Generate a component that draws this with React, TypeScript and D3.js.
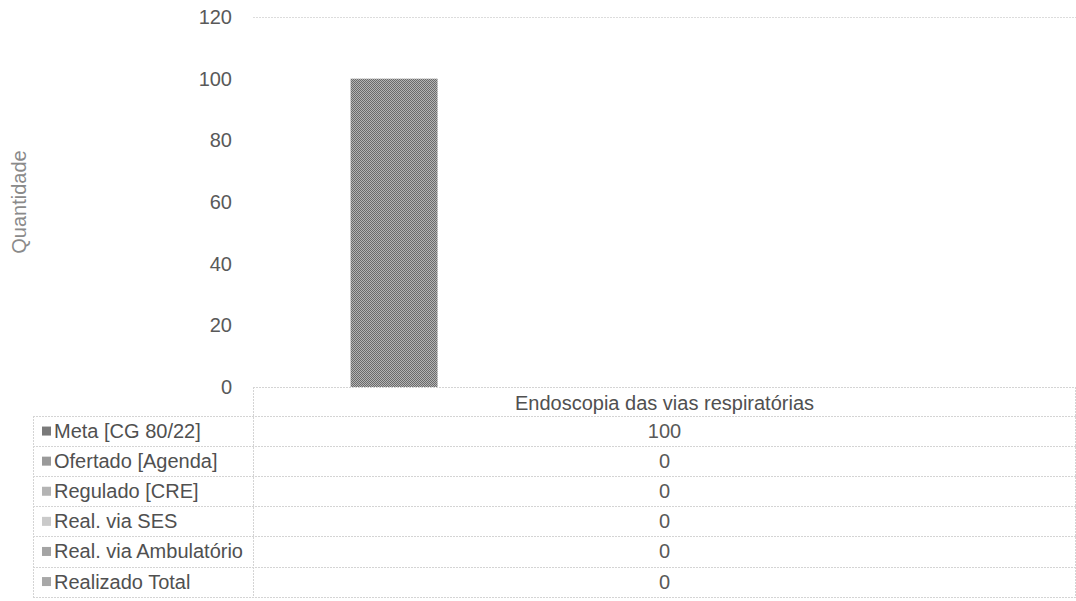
import React, { useEffect, useRef } from "react";
import * as d3 from "d3";

const categories = ["Endoscopia das vias respiratórias"];
const seriesNames = [
  "Meta [CG 80/22]",
  "Ofertado [Agenda]",
  "Regulado [CRE]",
  "Real. via SES",
  "Real. via Ambulatório",
  "Realizado Total",
];
const seriesValues = [[100], [0], [0], [0], [0], [0]];
const yTicks = [0, 20, 40, 60, 80, 100, 120];
const seriesColors = ["#7a7a7a", "#9a9a9a", "#b4b4b4", "#cacaca", "#a4a4a4", "#a8a8a8"];

const W = 1076;
const H = 601;
const FONT = "'Liberation Sans', Arial, sans-serif";

export default function App() {
  const ref = useRef<SVGSVGElement | null>(null);

  useEffect(() => {
    const svg = d3.select(ref.current);
    svg.selectAll("*").remove();

    const plotLeft = 253;
    const plotRight = 1076;
    const plotTop = 17;
    const plotBottom = 387;
    const tableLeft = 33;
    const rowTop = 416;
    const rowH = 30.1;

    const defs = svg.append("defs");
    const pat = defs
      .append("pattern")
      .attr("id", "checker")
      .attr("width", 2)
      .attr("height", 2)
      .attr("patternUnits", "userSpaceOnUse");
    pat.append("rect").attr("width", 2).attr("height", 2).attr("fill", "#b4b4b4");
    pat.append("rect").attr("width", 1).attr("height", 1).attr("fill", "#6a6a6a");
    pat.append("rect").attr("x", 1).attr("y", 1).attr("width", 1).attr("height", 1).attr("fill", "#6a6a6a");

    const y = d3.scaleLinear().domain([0, 120]).range([plotBottom, plotTop]);
    const x0 = d3
      .scaleBand<string>()
      .domain(categories)
      .range([plotLeft, plotRight])
      .paddingInner(0)
      .paddingOuter(0.134);
    const x1 = d3
      .scaleBand<string>()
      .domain(seriesNames)
      .range([0, x0.bandwidth()])
      .paddingInner(0.196)
      .paddingOuter(0.098);

    // gridline at top
    svg
      .append("g")
      .selectAll("line")
      .data(yTicks.filter((t) => t === 120))
      .join("line")
      .attr("x1", plotLeft)
      .attr("x2", plotRight)
      .attr("y1", (d) => Math.round(y(d)) + 0.5)
      .attr("y2", (d) => Math.round(y(d)) + 0.5)
      .attr("stroke", "#dcdcdc")
      .attr("stroke-dasharray", "2,1")
      .attr("stroke-width", 1);

    // tick labels
    svg
      .append("g")
      .selectAll("text")
      .data(yTicks)
      .join("text")
      .attr("x", 232)
      .attr("y", (d) => y(d))
      .attr("dy", "0.35em")
      .attr("text-anchor", "end")
      .attr("font-family", FONT)
      .attr("font-size", 20)
      .attr("fill", "#595959")
      .text((d) => String(d));

    // axis title
    svg
      .append("text")
      .attr("transform", `translate(26,${(plotTop + plotBottom) / 2}) rotate(-90)`)
      .attr("text-anchor", "middle")
      .attr("font-family", FONT)
      .attr("font-size", 20)
      .attr("fill", "#8a8a8a")
      .text("Quantidade");

    // bars
    const g = svg.append("g");
    categories.forEach((cat, ci) => {
      seriesNames.forEach((s, si) => {
        const v = seriesValues[si][ci];
        if (v <= 0) return;
        g.append("rect")
          .attr("x", (x0(cat) ?? 0) + (x1(s) ?? 0))
          .attr("y", y(v))
          .attr("width", x1.bandwidth())
          .attr("height", y(0) - y(v))
          .attr("fill", si === 0 ? "url(#checker)" : seriesColors[si]);
      });
    });

    // table lines
    const lineCol = "#d4d4d4";
    const tg = svg.append("g").attr("stroke", lineCol).attr("stroke-dasharray", "2,1").attr("stroke-width", 1);
    tg.append("line").attr("x1", plotLeft).attr("x2", plotRight).attr("y1", plotBottom + 0.5).attr("y2", plotBottom + 0.5);
    for (let i = 0; i <= seriesNames.length; i++) {
      const yy = Math.round(rowTop + i * rowH) + 0.5;
      tg.append("line").attr("x1", tableLeft).attr("x2", plotRight).attr("y1", yy).attr("y2", yy);
    }
    const tableBottom = Math.round(rowTop + seriesNames.length * rowH) + 0.5;
    tg.append("line").attr("x1", tableLeft + 0.5).attr("x2", tableLeft + 0.5).attr("y1", rowTop).attr("y2", tableBottom);
    tg.append("line").attr("x1", plotLeft + 0.5).attr("x2", plotLeft + 0.5).attr("y1", plotBottom).attr("y2", tableBottom);
    tg.append("line").attr("x1", plotRight - 0.5).attr("x2", plotRight - 0.5).attr("y1", plotBottom).attr("y2", tableBottom);

    // category header
    categories.forEach((cat) => {
      svg
        .append("text")
        .attr("x", (x0(cat) ?? 0) + x0.bandwidth() / 2)
        .attr("y", (plotBottom + rowTop) / 2 + 1)
        .attr("dy", "0.35em")
        .attr("text-anchor", "middle")
        .attr("font-family", FONT)
        .attr("font-size", 20)
        .attr("fill", "#505050")
        .text(cat);
    });

    // rows
    seriesNames.forEach((s, si) => {
      const cy = rowTop + si * rowH + rowH / 2;
      svg
        .append("rect")
        .attr("x", 42)
        .attr("y", cy - 4.5)
        .attr("width", 9)
        .attr("height", 9)
        .attr("fill", seriesColors[si]);
      svg
        .append("text")
        .attr("x", 54)
        .attr("y", cy)
        .attr("dy", "0.35em")
        .attr("font-family", FONT)
        .attr("font-size", 20)
        .attr("fill", "#505050")
        .text(s);
      categories.forEach((cat, ci) => {
        svg
          .append("text")
          .attr("x", (x0(cat) ?? 0) + x0.bandwidth() / 2)
          .attr("y", cy)
          .attr("dy", "0.35em")
          .attr("text-anchor", "middle")
          .attr("font-family", FONT)
          .attr("font-size", 20)
          .attr("fill", "#595959")
          .text(String(seriesValues[si][ci]));
      });
    });
  }, []);

  return (
    <svg
      ref={ref}
      width={W}
      height={H}
      style={{ position: "absolute", left: 0, top: 0, background: "#fff" }}
    />
  );
}
